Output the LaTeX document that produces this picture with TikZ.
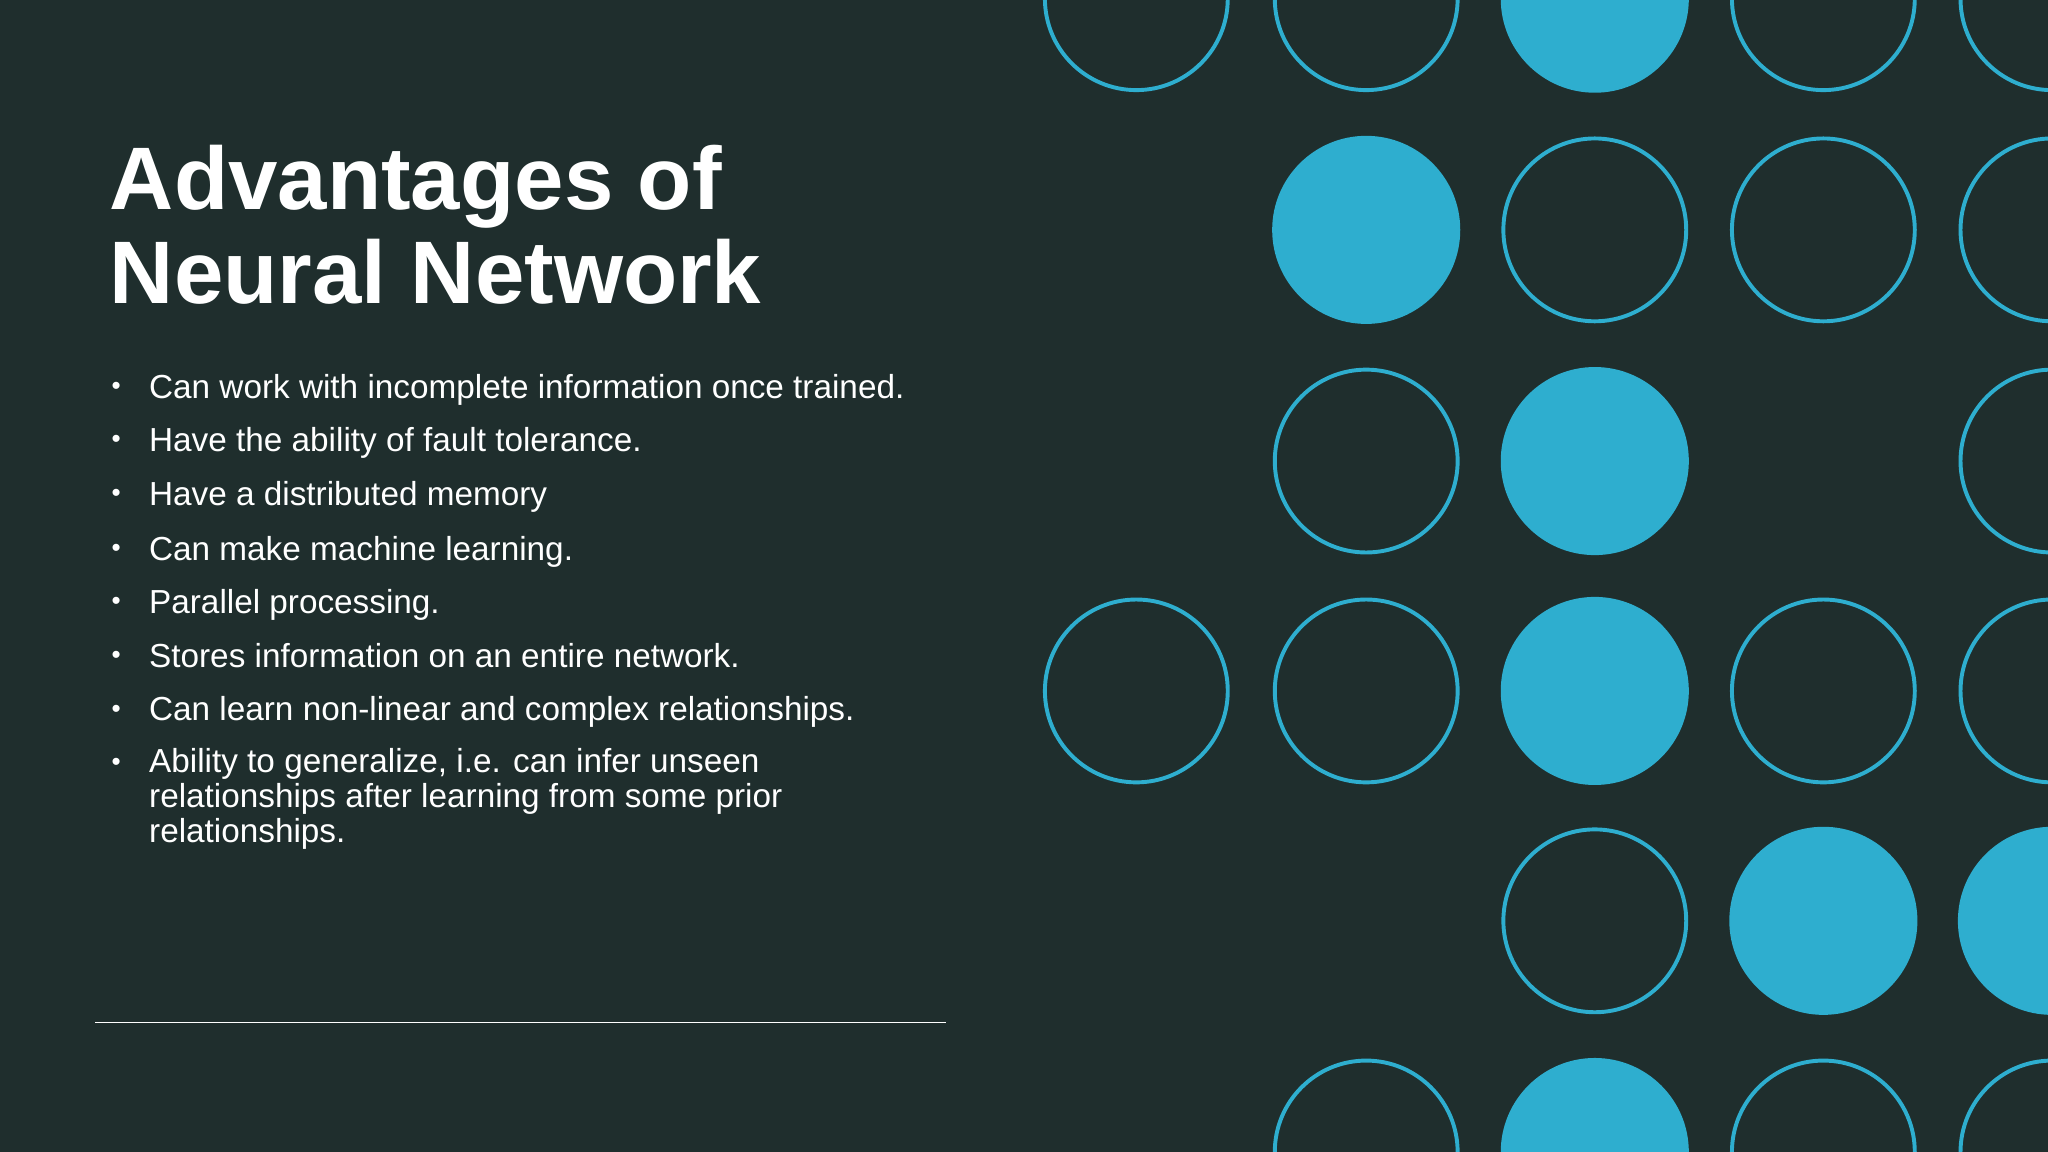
\documentclass[tikz,border=0pt]{standalone}
\usepackage{fontspec}
\setmainfont{Liberation Sans}
\definecolor{bg}{HTML}{1F2E2D}
\definecolor{cy}{HTML}{2EAECF}
\begin{document}
\begin{tikzpicture}[x=1pt,y=-1pt,
  ring/.style={draw=cy,line width=3pt},
  disc/.style={fill=cy},
  bul/.style={anchor=base west,text=white,font=\fontsize{25.5}{27}\selectfont,inner sep=0pt},
  dot/.style={anchor=base,text=white,font=\fontsize{20}{22}\selectfont,inner sep=0pt}]
\fill[bg] (0,0) rectangle (1568,882);
\useasboundingbox (0,0) rectangle (1568,882);
\begin{scope}
\clip (0,0) rectangle (1568,882);
\foreach \x/\y in {870/-1,1046/-1,1396/-1,1571/-1, 1221/176,1396/176,1571/176, 1046/353,1571/353, 870/529,1046/529,1396/529,1571/529, 1221/705, 1046/882,1396/882,1571/882}
  \draw[ring] (\x,\y) circle (70);
\foreach \x/\y in {1221/-1, 1046/176, 1221/353, 1221/529, 1396/705,1571/705, 1221/882}
  \fill[disc] (\x,\y) circle (72);
\end{scope}
\node[anchor=west,text=white,inner sep=0pt,align=left,font=\fontsize{68}{72}\selectfont\bfseries] (title) at (84,172) {Advantages of\\Neural Network};
\foreach \i/\y/\t in {1/296/{Can work with incomplete information once trained.},
  2/337/{Have the ability of fault tolerance.},
  3/378/{Have a distributed memory},
  4/420/{Can make machine learning.},
  5/461/{Parallel processing.},
  6/502/{Stores information on an entire network.},
  7/543/{Can learn non-linear and complex relationships.}}
{ \node[dot] (d\i) at (89,\y+6) {•}; \node[bul] (b\i) at (114,\y+9) {\t}; }
\node[dot] (d8) at (89,590) {•};
\node[bul,align=left,anchor=north west,font=\fontsize{25.5}{26.5}\selectfont] (b8) at (114,573) {Ability to generalize, i.e. can infer unseen\\relationships after learning from some prior\\relationships.};
\coordinate (l1) at (73,783); \coordinate (l2) at (724,783);
\draw[white,line width=1.2pt] (l1) -- (l2);
\end{tikzpicture}
\end{document}
